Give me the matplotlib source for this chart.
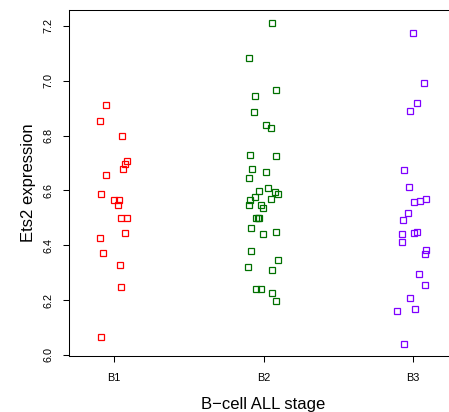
import matplotlib
matplotlib.use('Agg')
import matplotlib.pyplot as plt

plt.rcParams['font.family'] = ['Liberation Sans', 'DejaVu Sans']

stages = ['B1', 'B2', 'B3']
colors = ['#ff0000', '#007000', '#7f00ff']

# jittered x positions and Ets2 values
b1_x = [0.944, 0.908, 1.051, 1.089, 1.074, 1.062, 0.944, 0.915, 1.000, 1.036,
        1.027, 1.049, 1.085, 1.074, 0.906, 0.928, 1.042, 1.045, 0.911]
b1_y = [6.913, 6.854, 6.798, 6.709, 6.697, 6.677, 6.658, 6.588, 6.565, 6.566,
        6.548, 6.501, 6.499, 6.446, 6.428, 6.371, 6.329, 6.248, 6.067]

b2_x = [2.058, 1.900, 2.082, 1.942, 1.935, 2.018, 2.051, 1.911, 2.085, 1.922,
        2.020, 1.904, 2.027, 1.967, 2.078, 2.098, 1.944, 2.047, 1.911, 1.902,
        1.985, 1.998, 1.951, 1.962, 1.973, 1.918, 1.998, 2.085, 1.918, 2.096,
        1.898, 2.058, 1.948, 1.982, 2.058, 2.082]
b2_y = [7.211, 7.082, 6.965, 6.946, 6.885, 6.838, 6.828, 6.728, 6.725, 6.677,
        6.666, 6.644, 6.608, 6.598, 6.594, 6.588, 6.577, 6.570, 6.565, 6.545,
        6.545, 6.534, 6.499, 6.499, 6.499, 6.463, 6.442, 6.450, 6.380, 6.345,
        6.322, 6.310, 6.240, 6.240, 6.227, 6.198]

b3_x = [3.002, 3.074, 3.025, 2.982, 2.942, 2.975, 3.007, 3.047, 3.089, 2.969,
        2.933, 2.929, 3.005, 3.025, 2.925, 3.085, 3.080, 3.036, 3.078, 2.982,
        2.893, 3.013, 2.940]
b3_y = [7.175, 6.993, 6.920, 6.890, 6.676, 6.612, 6.559, 6.563, 6.568, 6.517,
        6.492, 6.442, 6.446, 6.450, 6.413, 6.382, 6.369, 6.295, 6.255, 6.207,
        6.160, 6.167, 6.040]

fig = plt.figure(figsize=(4.49, 4.12), dpi=100)
ax = fig.add_axes([69 / 449, 56 / 412, 389 / 449, 346 / 412])

for xs, ys, c in zip([b1_x, b2_x, b3_x], [b1_y, b2_y, b3_y], colors):
    ax.plot(xs, ys, linestyle='none', marker='s', markersize=4.3,
            markerfacecolor='none', markeredgecolor=c, markeredgewidth=0.9)

ax.set_xlim(0.7, 3.3)
ax.set_ylim(5.996, 7.258)
ax.set_xticks([1, 2, 3])
ax.set_xticklabels(stages)
ax.set_yticks([6.0, 6.2, 6.4, 6.6, 6.8, 7.0, 7.2])
ax.set_yticklabels(['6.0', '6.2', '6.4', '6.6', '6.8', '7.0', '7.2'],
                   rotation=90, va='center')
ax.tick_params(axis='both', labelsize=7.8, length=4.3, width=0.75)
ax.tick_params(axis='y', pad=7)
ax.tick_params(axis='x', pad=8)
for s in ax.spines.values():
    s.set_linewidth(0.75)

ax.set_xlabel('B\u2212cell ALL stage', fontsize=12, labelpad=10)
ax.set_ylabel('Ets2 expression', fontsize=12, labelpad=5)

fig.savefig('out.png', dpi=100)
